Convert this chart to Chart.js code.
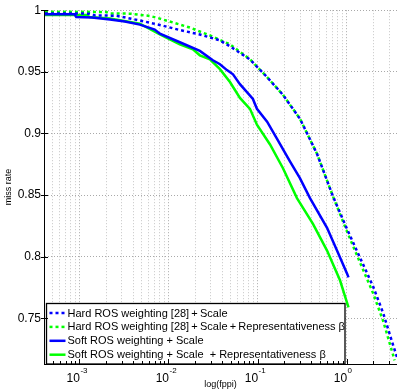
<!DOCTYPE html>
<html>
<head>
<meta charset="utf-8">
<script src="https://cdn.jsdelivr.net/npm/chart.js@4.4.0/dist/chart.umd.min.js"></script>
<style>
    html, body { margin: 0; padding: 0; background: #fff; }
    #wrap { width: 397px; height: 392px; position: relative; }
</style>
</head>
<body>
<div id="wrap"><canvas id="chart"></canvas></div>
<script>
/* Miss rate vs. false positives per image, MATLAB-style log plot. */

// Hard ROS weighting [28] + Scale (blue, dotted)
var hardScaleX = [4.1e-4, 1.3e-3, 1.5e-3, 2.6e-3, 4.8e-3, 8.6e-3, 0.0134, 0.0225, 0.0378, 0.049, 0.0822, 0.128, 0.193, 0.299, 0.465, 0.703, 1.01, 1.41, 1.98, 2.57, 3.32, 3.68];
var hardScaleY = [0.9974, 0.9972, 0.9958, 0.9955, 0.9916, 0.9875, 0.9839, 0.9803, 0.9755, 0.9707, 0.960, 0.9457, 0.9313, 0.912, 0.8835, 0.849, 0.8225, 0.7995, 0.776, 0.7545, 0.7285, 0.7185];

// Hard ROS weighting [28] + Scale + Representativeness (green, dotted)
var hardRepX = [4.1e-4, 2.0e-3, 2.2e-3, 3.7e-3, 6.2e-3, 8.0e-3, 0.0174, 0.0292, 0.049, 0.0822, 0.128, 0.193, 0.299, 0.465, 0.703, 1.01, 1.41, 1.98, 2.57, 3.32, 3.45];
var hardRepY = [0.9988, 0.9986, 0.9974, 0.9972, 0.9953, 0.9932, 0.9859, 0.9795, 0.9723, 0.9602, 0.9457, 0.9313, 0.912, 0.8835, 0.849, 0.8205, 0.7955, 0.7705, 0.748, 0.7205, 0.716];

// Soft ROS weighting + Scale (blue, solid)
var softScaleX = [4.1e-4, 8.8e-4, 9.2e-4, 1.38e-3, 2.2e-3, 3.24e-3, 4.77e-3, 7.0e-3, 8.0e-3, 0.0134, 0.0225, 0.0315, 0.0378, 0.0453, 0.053, 0.0634, 0.0887, 0.0984, 0.128, 0.165, 0.231, 0.299, 0.388, 0.603, 0.780, 1.01, 1.05];
var softScaleY = [0.9968, 0.9968, 0.9944, 0.994, 0.9924, 0.9908, 0.9883, 0.9843, 0.981, 0.974, 0.967, 0.9594, 0.9562, 0.9514, 0.948, 0.940, 0.928, 0.920, 0.9096, 0.8959, 0.8774, 0.8637, 0.8476, 0.8235, 0.805, 0.7865, 0.7833];

// Soft ROS weighting + Scale + Representativeness (green, solid)
var softRepX = [4.1e-4, 1.21e-3, 1.3e-3, 2.2e-3, 4.77e-3, 8.0e-3, 0.0134, 0.0188, 0.0225, 0.0292, 0.0378, 0.049, 0.0634, 0.0822, 0.0984, 0.138, 0.193, 0.277, 0.419, 0.603, 0.843, 1.05];
var softRepY = [0.9961, 0.9961, 0.9944, 0.9932, 0.989, 0.9803, 0.9723, 0.9682, 0.9634, 0.9602, 0.9522, 0.9417, 0.9288, 0.920, 0.9071, 0.8911, 0.8718, 0.8476, 0.8267, 0.805, 0.7809, 0.759];

var seriesLabels = [
    "Hard ROS weighting [28]\u2009+\u2009Scale",
    "Hard ROS weighting [28]\u2009+\u2009Scale\u2009+\u2009Representativeness \u03b2",
    "Soft ROS weighting + Scale",
    "Soft ROS weighting + Scale  + Representativeness \u03b2"
];

// axes
var xDecades = [1e-4, 1e-3, 1e-2, 1e-1, 1];
var xMinorSteps = [1, 2, 3, 4, 5, 6, 7, 8, 9];
var xLabelDecades = [1e-3, 1e-2, 1e-1, 1];
var xLabelExponents = ["-3", "-2", "-1", "0"];
var xMin = 4e-4, xMax = 3.68;
var yTicks = [0.75, 0.8, 0.85, 0.9, 0.95, 1];
var yTickLabels = ["0.75", "0.8", "0.85", "0.9", "0.95", "1"];
var yMin = 0.713, yMax = 1.0;

function points(xs, ys) {
    return xs.map(function (x, i) {
        return { x: x, y: ys[i] };
    });
}

var xGrid = [];
xDecades.forEach(function (d) {
    xMinorSteps.forEach(function (m) {
        var v = d * m;
        if (v > xMin * 1.01 && v < xMax) {
            xGrid.push(v);
        }
    });
});

function isDecade(v) {
    var l = Math.log10(v);
    return Math.abs(l - Math.round(l)) < 1e-6;
}

var FONT = "'Liberation Sans', Arial, Helvetica, sans-serif";
Chart.defaults.font.family = FONT;
Chart.defaults.color = "#000";

var matlabDecor = {
    id: "matlabDecor",
    afterDatasetsDraw: function (chart) {
        // legend box inside the axes, lower left
        var ctx = chart.ctx;
        var area = chart.chartArea;
        var bx = area.left + 2.5, by = 303.5, bw = 298.5, bh = area.bottom - by;
        ctx.save();
        ctx.fillStyle = "#fff";
        ctx.fillRect(bx, by, bw, bh);
        ctx.strokeStyle = "#000";
        ctx.lineWidth = 1.3;
        ctx.strokeRect(bx, by, bw, bh);
        ctx.font = "11px " + FONT;
        ctx.textBaseline = "middle";
        ctx.fillStyle = "#000";
        chart.data.datasets.forEach(function (ds, i) {
            var y = 313 + i * 13.9;
            ctx.beginPath();
            ctx.setLineDash(ds.borderDash || []);
            ctx.strokeStyle = ds.borderColor;
            ctx.lineWidth = ds.borderWidth;
            ctx.moveTo(bx + 3, y);
            ctx.lineTo(bx + 19, y);
            ctx.stroke();
            ctx.setLineDash([]);
            ctx.fillText(ds.label, bx + 21, y + 0.5);
        });
        ctx.restore();
    },
    afterDraw: function (chart) {
        var ctx = chart.ctx;
        var area = chart.chartArea;
        var xs = chart.scales.x, ys = chart.scales.y;
        ctx.save();
        ctx.strokeStyle = "#000";
        ctx.lineWidth = 1;
        ctx.beginPath();
        xs.ticks.forEach(function (t) {
            var px = Math.round(xs.getPixelForValue(t.value)) + 0.5;
            var len = isDecade(t.value) ? 5 : 3;
            ctx.moveTo(px, area.bottom);
            ctx.lineTo(px, area.bottom - len);
        });
        ys.ticks.forEach(function (t) {
            var py = Math.round(ys.getPixelForValue(t.value)) + 0.5;
            ctx.moveTo(area.left - 3, py);
            ctx.lineTo(area.left + 4, py);
        });
        ctx.stroke();

        // x tick labels as 10 with a raised exponent
        ctx.fillStyle = "#000";
        ctx.textBaseline = "alphabetic";
        xLabelDecades.forEach(function (v, i) {
            var px = xs.getPixelForValue(v);
            ctx.font = "12px " + FONT;
            ctx.textAlign = "right";
            ctx.fillText("10", px + 0.5, 381.5);
            ctx.font = "8px " + FONT;
            ctx.textAlign = "left";
            ctx.fillText(xLabelExponents[i], px + 1, 373);
        });
        ctx.restore();
    }
};

new Chart(document.getElementById("chart"), {
    type: "line",
    data: {
        datasets: [
            {
                label: seriesLabels[0],
                data: points(hardScaleX, hardScaleY),
                borderColor: "#0000ff",
                borderWidth: 2.5,
                borderDash: [3, 3]
            },
            {
                label: seriesLabels[1],
                data: points(hardRepX, hardRepY),
                borderColor: "#00ff00",
                borderWidth: 2.5,
                borderDash: [3, 3]
            },
            {
                label: seriesLabels[2],
                data: points(softScaleX, softScaleY),
                borderColor: "#0000ff",
                borderWidth: 2.5
            },
            {
                label: seriesLabels[3],
                data: points(softRepX, softRepY),
                borderColor: "#00ff00",
                borderWidth: 2.5
            }
        ]
    },
    options: {
        animation: false,
        responsive: true,
        maintainAspectRatio: false,
        layout: { padding: { top: 7, right: 0, bottom: 0, left: 0 } },
        elements: { point: { radius: 0 }, line: { tension: 0 } },
        plugins: { legend: { display: false }, tooltip: { enabled: false } },
        scales: {
            x: {
                type: "logarithmic",
                min: xMin,
                max: xMax,
                afterBuildTicks: function (scale) {
                    scale.ticks = xGrid.map(function (v) {
                        return { value: v };
                    });
                },
                afterFit: function (scale) {
                    scale.height = 28;
                },
                ticks: { display: false },
                grid: {
                    drawTicks: false,
                    color: function (c) {
                        return c.tick && isDecade(c.tick.value) ? "#a9a9a9" : "#c6c6c6";
                    }
                },
                border: { color: "#000", width: 1, dash: [1, 2] },
                title: {
                    display: true,
                    text: "log(fppi)",
                    font: { size: 9 },
                    padding: { top: 0, bottom: 2 }
                }
            },
            y: {
                type: "linear",
                min: yMin,
                max: yMax,
                afterBuildTicks: function (scale) {
                    scale.ticks = yTicks.map(function (v) {
                        return { value: v };
                    });
                },
                afterFit: function (scale) {
                    scale.width = 44;
                },
                ticks: {
                    font: { size: 12 },
                    padding: 3,
                    callback: function (value, index) {
                        return yTickLabels[index];
                    }
                },
                grid: { drawTicks: false, color: "#a9a9a9" },
                border: { color: "#000", width: 1, dash: [1, 2] },
                title: {
                    display: true,
                    text: "miss rate",
                    font: { size: 9 },
                    padding: { top: 3, bottom: 0 }
                }
            }
        }
    },
    plugins: [matlabDecor]
});
</script>
</body>
</html>
